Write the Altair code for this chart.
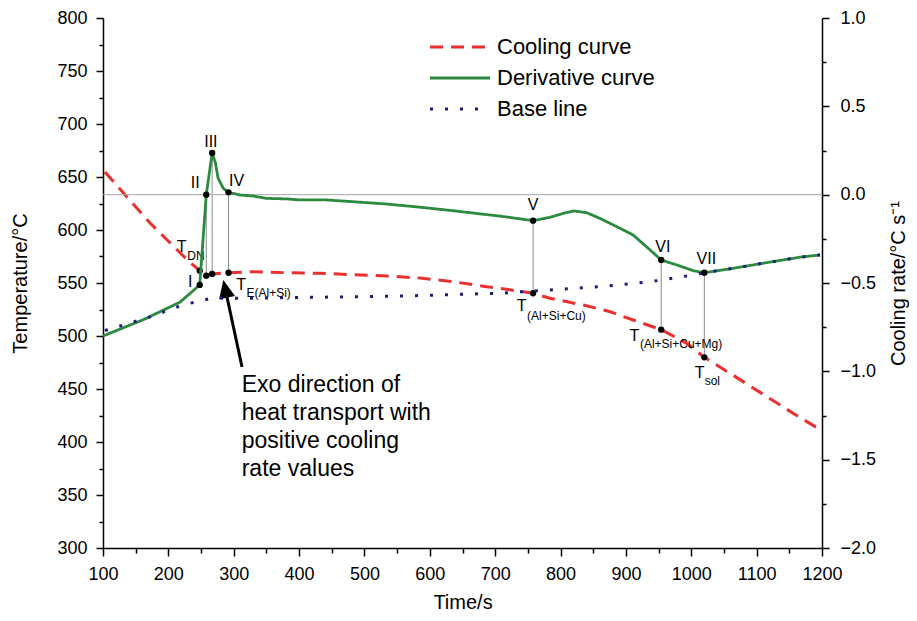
import altair as alt
import pandas as pd

FONT = "Liberation Sans"

# ---------------- data ----------------
series_names = ["Cooling curve", "Derivative curve", "Base line"]
series_colors = ["#e8312f", "#2b8a3e", "#1c1c7c"]
series_dashes = [[13, 8], [1, 0], [3, 12]]

# cooling curve (temperature, left axis)
cool_time = [103, 138, 172, 206, 229, 248, 258, 267, 292, 330, 381, 432, 483, 534,
             585, 636, 687, 707, 758, 784, 835, 876, 911, 954, 993, 1020, 1064, 1115,
             1160, 1195]
cool_temp = [654.7, 630.2, 606.6, 585.8, 571.7, 561.6, 556.9, 558.5, 559.7, 560.7,
             559.7, 559.2, 557.8, 556.6, 554.7, 551.2, 546.5, 545.0, 540.3, 535.6,
             529.2, 522.9, 515.1, 506.0, 493.1, 479.9, 463.0, 443.0, 425.5, 412.5]

# derivative curve (cooling rate, right axis)
deriv_time = [100, 161, 218, 248, 258, 267, 272, 276, 284, 292,
              310, 330, 350, 381, 401, 442, 483, 534, 585, 636,
              687, 707, 758, 784, 805, 820, 840, 860, 886, 911,
              937, 954, 978, 1003, 1020, 1064, 1115, 1166, 1197]
deriv_rate = [-0.800, -0.709, -0.608, -0.511, 0.000, 0.236, 0.180, 0.094, 0.036, 0.013,
              -0.002, -0.008, -0.021, -0.024, -0.030, -0.030, -0.040, -0.053, -0.071, -0.091,
              -0.113, -0.121, -0.147, -0.128, -0.105, -0.092, -0.102, -0.134, -0.181, -0.228,
              -0.313, -0.370, -0.398, -0.430, -0.442, -0.417, -0.385, -0.354, -0.341]

# base line (cooling rate, right axis)
base_time = [103, 172, 222, 268, 310, 401, 554, 707, 758, 860, 937, 987, 1020,
             1064, 1115, 1166, 1197]
base_rate = [-0.769, -0.692, -0.624, -0.585, -0.587, -0.582, -0.574, -0.558, -0.545,
             -0.521, -0.493, -0.464, -0.442, -0.417, -0.385, -0.354, -0.341]

# characteristic points
pt_names = ["I", "II", "III", "IV", "V", "VI", "VII"]
pt_time = [248, 258, 267, 292, 758, 954, 1020]
pt_rate = [-0.511, 0.000, 0.236, 0.013, -0.147, -0.370, -0.442]
pt_temp = [561.6, 556.9, 558.5, 559.7, 540.3, 506.0, 479.9]

t_label_points = ["I", "IV", "V", "VI", "VII"]
t_label_subs = ["DN", "E(Al+Si)", "(Al+Si+Cu)", "(Al+Si+Cu+Mg)", "sol"]

zero_rate = [0.0]

arrow_shaft_time = [312.7, 287.3]
arrow_shaft_temp = [470.8, 543.6]
arrow_tip_time = [284.1]
arrow_tip_temp = [552.8]

note_lines = ["Exo direction of", "heat transport with", "positive cooling", "rate values"]
note_time = [312.2]
note_temp = [447.5]

x_ticks = list(range(100, 1201, 50))
temp_ticks = list(range(300, 801, 25))
rate_ticks = [-2.0 + 0.25 * i for i in range(13)]
temp_domain = [300, 800]
rate_domain = [-2.0, 1.0]

# ---------------- styling ----------------
ROMAN_OFFSET = {"I": (-9.5, -2.5), "II": (-11, -12), "III": (-1.3, -10.8), "IV": (8, -11.8),
                "V": (0, -15.7), "VI": (1.7, -13.3), "VII": (2, -13.7)}
T_OFFSET = {"I": ((-18, -23.7), (-12.5, -15)),
            "IV": ((12.6, 12.3), (18, 19.8)),
            "V": ((-11.4, 13.2), (-6, 22.4)),
            "VI": ((-26.8, 6.8), (-21.3, 14.3)),
            "VII": ((-4.7, 16), (0.3, 23.7))}


def cond_tick(test, major, minor):
    return {"condition": {"test": test, "value": major}, "value": minor}


x_axis = alt.Axis(values=x_ticks, format="d",
                  labelExpr="datum.value % 100 === 0 ? datum.label : ''",
                  tickSize=cond_tick("datum.value % 100 === 0", 8, 5),
                  labelPadding=9, titlePadding=9, labelOverlap=False, labelFlush=False)
left_axis = alt.Axis(values=temp_ticks, format="d", orient="left",
                     labelExpr="datum.value % 50 === 0 ? datum.label : ''",
                     tickSize=cond_tick("datum.value % 50 === 0", 7, 4),
                     labelPadding=9, titlePadding=26, labelOverlap=False)
right_axis = alt.Axis(values=rate_ticks, format=".1f", orient="right",
                      labelExpr="datum.value % 0.5 === 0 ? (datum.value >= 0 ? '\u2007' + datum.label : datum.label) : ''",
                      tickSize=cond_tick("datum.value % 0.5 === 0", 7, 4),
                      labelPadding=11, titlePadding=13, titleAngle=270, titleBaseline="top",
                      labelOverlap=False)

X_SCALE = alt.Scale(domain=[100, 1200], nice=False)
T_SCALE = alt.Scale(domain=temp_domain, nice=False)
R_SCALE = alt.Scale(domain=rate_domain, nice=False)


def X(field):
    return alt.X(f"{field}:Q", scale=X_SCALE, axis=x_axis, title="Time/s")


def YT(field):
    return alt.Y(f"{field}:Q", scale=T_SCALE, axis=left_axis, title="Temperature/°C")


def YR(field):
    return alt.Y(f"{field}:Q", scale=R_SCALE, axis=right_axis, title="Cooling rate/°C s⁻¹")


legend = alt.Legend(title=None, orient="none", legendX=325.5, legendY=14,
                    symbolType="stroke", symbolSize=3600, symbolStrokeWidth=3,
                    clipHeight=30, rowPadding=1, labelOffset=5.5, labelFont=FONT,
                    labelFontSize=22, labelColor="black", padding=0, labelLimit=0)
color = alt.Color("series:N", scale=alt.Scale(domain=series_names, range=series_colors), legend=legend)
dash = alt.StrokeDash("series:N", scale=alt.Scale(domain=series_names, range=series_dashes), legend=legend)

# ---------------- data frames ----------------
cool_df = pd.DataFrame({"time": cool_time, "temp": cool_temp, "series": series_names[0]})
deriv_df = pd.DataFrame({"time": deriv_time, "rate": deriv_rate, "series": series_names[1]})
base_df = pd.DataFrame({"time": base_time, "rate": base_rate, "series": series_names[2]})
pts_df = pd.DataFrame({"name": pt_names, "time": pt_time, "rate": pt_rate, "temp": pt_temp})
tl_df = pd.DataFrame({"name": t_label_points, "sub": t_label_subs,
                      "time": [pt_time[pt_names.index(p)] for p in t_label_points],
                      "temp": [pt_temp[pt_names.index(p)] for p in t_label_points]})
zero_df = pd.DataFrame({"zero": zero_rate})
shaft_df = pd.DataFrame({"time": arrow_shaft_time, "temp": arrow_shaft_temp})
tip_df = pd.DataFrame({"time": arrow_tip_time, "temp": arrow_tip_temp})
note_df = pd.DataFrame({"time": note_time, "temp": note_temp, "note": ["\n".join(note_lines)]})

# ---------------- temperature layers ----------------
t0, t1 = temp_domain
r0, r1 = rate_domain
vrules = alt.Chart(pts_df).transform_calculate(
    rate_as_temp=f"{t0} + (datum.rate - ({r0})) * {(t1 - t0) / (r1 - r0)}"
).mark_rule(color="#8c8c8c", strokeWidth=1).encode(x=X("time"), y=YT("temp"), y2="rate_as_temp:Q")

cool_line = alt.Chart(cool_df).mark_line(strokeWidth=3).encode(
    x=X("time"), y=YT("temp"), color=color, strokeDash=dash)

shaft = alt.Chart(shaft_df).mark_line(color="black", strokeWidth=3).encode(x=X("time"), y=YT("temp"))
head = alt.Chart(tip_df).mark_point(shape="M0,0L-0.45,1L0.45,1Z", size=1296, angle=348,
                                    filled=True, color="black", opacity=1, strokeWidth=0).encode(
    x=X("time"), y=YT("temp"))

cool_dots = alt.Chart(pts_df).mark_circle(size=40, color="black", opacity=1).encode(
    x=X("time"), y=YT("temp"))

t_layers = []
for p in t_label_points:
    (tdx, tdy), (sdx, sdy) = T_OFFSET[p]
    base = alt.Chart(tl_df).transform_filter(alt.datum.name == p)
    t_layers.append(base.mark_text(text="T", dx=tdx, dy=tdy, fontSize=16, font=FONT,
                                   color="black", align="center", baseline="middle").encode(
        x=X("time"), y=YT("temp")))
    t_layers.append(base.mark_text(dx=sdx, dy=sdy, fontSize=12, font=FONT, color="black",
                                   align="left", baseline="middle").encode(
        x=X("time"), y=YT("temp"), text="sub:N"))

note = alt.Chart(note_df).mark_text(align="left", baseline="alphabetic", lineBreak="\n",
                                    lineHeight=28, fontSize=23, font=FONT, color="black").encode(
    x=X("time"), y=YT("temp"), text="note:N")

temp_group = alt.layer(vrules, cool_line, shaft, head, cool_dots, *t_layers, note)

# ---------------- rate layers ----------------
zero_rule = alt.Chart(zero_df).mark_rule(color="#a6a6a6", strokeWidth=1).encode(y=YR("zero"))
deriv_line = alt.Chart(deriv_df).mark_line(strokeWidth=2.8).encode(
    x=X("time"), y=YR("rate"), color=color, strokeDash=dash)
base_line = alt.Chart(base_df).mark_line(strokeWidth=3).encode(
    x=X("time"), y=YR("rate"), color=color, strokeDash=dash)
deriv_dots = alt.Chart(pts_df).mark_circle(size=40, color="black", opacity=1).encode(
    x=X("time"), y=YR("rate"))

roman_layers = []
for nm in pt_names:
    dx, dy = ROMAN_OFFSET[nm]
    roman_layers.append(alt.Chart(pts_df).transform_filter(alt.datum.name == nm).mark_text(
        dx=dx, dy=dy, fontSize=16, font=FONT, color="black", align="center", baseline="middle"
    ).encode(x=X("time"), y=YR("rate"), text="name:N"))

rate_group = alt.layer(zero_rule, deriv_line, base_line, deriv_dots, *roman_layers)

chart = alt.layer(temp_group, rate_group).resolve_scale(y="independent").properties(
    width=719, height=530,
    padding={"left": 95, "top": 10, "right": 87, "bottom": 65},
    autosize=alt.AutoSizeParams(type="none"),
).configure_axis(
    labelFont=FONT, titleFont=FONT, labelFontSize=18, titleFontSize=20,
    titleFontWeight="normal", labelColor="black", titleColor="black",
    domainColor="black", tickColor="black", domainWidth=1.5, tickWidth=1.5, grid=False,
).configure_view(stroke=None)

chart.save("out.html", embed_options={"renderer": "svg", "actions": False})
